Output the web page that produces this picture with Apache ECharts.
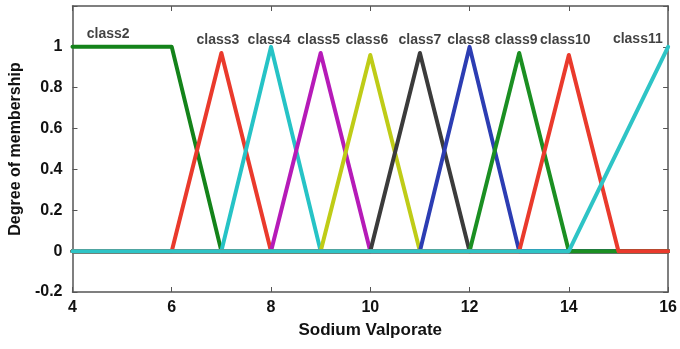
<!DOCTYPE html>
<html>
<head>
<meta charset="utf-8">
<script src="https://cdn.jsdelivr.net/npm/echarts@6/dist/echarts.min.js"></script>
<style>
  html, body { margin: 0; padding: 0; background: #fff; }
  #chart { width: 680px; height: 349px; }
</style>
</head>
<body>
<div id="chart"></div>
<script>
// membership functions, breakpoints
const classNames = ["class2", "class3", "class4", "class5", "class6", "class7", "class8", "class9", "class10", "class11"];
const seriesX = [
  [4, 6, 7, 16],
  [4, 6, 7, 8, 16],
  [4, 7, 8, 9, 16],
  [4, 8, 9, 10, 16],
  [4, 9, 10, 11, 16],
  [4, 10, 11, 12, 16],
  [4, 11, 12, 13, 16],
  [4, 12, 13, 14, 16],
  [4, 13, 14, 15, 16],
  [4, 14, 16]
];
const seriesY = [
  [1, 1, 0, 0],
  [0, 0, 0.97, 0, 0],
  [0, 0, 1, 0, 0],
  [0, 0, 0.97, 0, 0],
  [0, 0, 0.96, 0, 0],
  [0, 0, 0.97, 0, 0],
  [0, 0, 1, 0, 0],
  [0, 0, 0.97, 0, 0],
  [0, 0, 0.96, 0, 0],
  [0, 0, 1]
];
const colors = ["#14831a", "#ea3a2c", "#26c3c6", "#b61bb8", "#bfcc17", "#3b3b3b", "#2c3db3", "#1b8f22", "#ea3a2c", "#2ec4c6"];

// label positions
const labelX = [4.72, 6.93, 7.96, 8.96, 9.93, 11.0, 11.98, 12.94, 13.93, 15.39];
const labelY = [1.063, 1.034, 1.034, 1.034, 1.034, 1.034, 1.034, 1.034, 1.034, 1.04];

const xTicks = [4, 6, 8, 10, 12, 14, 16];
const yTicks = [-0.2, 0, 0.2, 0.4, 0.6, 0.8, 1];

const chart = echarts.init(document.getElementById("chart"));

const series = classNames.map((name, i) => ({
  name: name,
  type: "line",
  data: seriesX[i].map((x, j) => [x, seriesY[i][j]]),
  showSymbol: false,
  symbol: "none",
  lineStyle: { width: 4, color: colors[i], cap: "round", join: "round" },
  itemStyle: { color: colors[i] },
  z: 2 + i,
  animation: false
}));

series.push({
  name: "labels",
  type: "scatter",
  symbolSize: 0,
  data: classNames.map((n, i) => [labelX[i], labelY[i], n]),
  label: {
    show: true,
    position: "inside",
    formatter: (p) => p.data[2],
    color: "#111",
    fontSize: 14,
    fontWeight: "bold",
    fontFamily: "Liberation Sans, Arial, sans-serif"
  },
  z: 20,
  animation: false
});

const axisFont = { color: "#111", fontSize: 16, fontWeight: "bold", fontFamily: "Liberation Sans, Arial, sans-serif" };
const axLine = { show: true, onZero: false, lineStyle: { color: "#555", width: 1.5 } };
const axTick = { show: true, inside: true, length: 5, lineStyle: { color: "#555" } };

const option = {
  backgroundColor: "#fff",
  animation: false,
  grid: { left: 69, right: 8, top: 6, bottom: 57 },
  xAxis: [
    {
      type: "value", min: 4, max: 16, interval: 2,
      axisLine: axLine, axisTick: axTick, splitLine: { show: false },
      axisLabel: Object.assign({ margin: 8, formatter: (v) => xTicks.includes(v) ? String(v) : "" }, axisFont),
      name: "Sodium Valporate", nameLocation: "middle", nameGap: 30,
      nameTextStyle: { color: "#111", fontSize: 17, fontWeight: "bold", fontFamily: "Liberation Sans, Arial, sans-serif" }
    },
    {
      type: "value", position: "top", min: 4, max: 16, interval: 2,
      axisLine: axLine, axisTick: axTick, axisLabel: { show: false }, splitLine: { show: false }
    }
  ],
  yAxis: [
    {
      type: "value", min: -0.2, max: 1.2, interval: 0.2,
      axisLine: axLine, axisTick: axTick, splitLine: { show: false },
      axisLabel: Object.assign({
        margin: 10,
        formatter: (v) => {
          const r = Math.round(v * 10) / 10;
          return yTicks.includes(r) ? String(r) : "";
        }
      }, axisFont),
      name: "Degree of membership", nameLocation: "middle", nameGap: 46,
      nameTextStyle: { color: "#111", fontSize: 16, fontWeight: "bold", fontFamily: "Liberation Sans, Arial, sans-serif" }
    },
    {
      type: "value", position: "right", min: -0.2, max: 1.2, interval: 0.2,
      axisLine: axLine, axisTick: axTick, axisLabel: { show: false }, splitLine: { show: false }
    }
  ],
  series: series
};

chart.setOption(option);
</script>
</body>
</html>
